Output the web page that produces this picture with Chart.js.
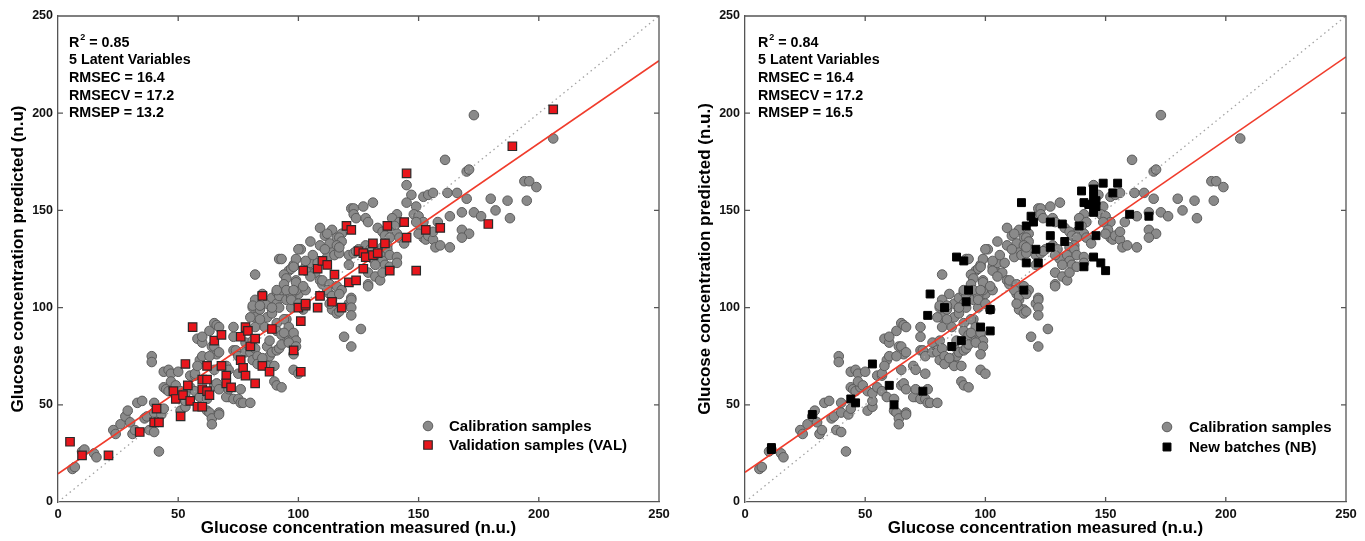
<!DOCTYPE html>
<html><head><meta charset="utf-8">
<script src="https://cdn.jsdelivr.net/npm/chart.js@4.4.1/dist/chart.umd.min.js"></script>
<style>
html,body{margin:0;padding:0;background:#fff;}
#wrap{position:relative;width:1365px;height:541px;overflow:hidden;}
canvas{position:absolute;top:0;}
#c1{left:0;} #c2{left:683px;}
</style></head><body>
<div id="wrap"><canvas id="c1" width="683" height="541"></canvas><canvas id="c2" width="682" height="541"></canvas></div>
<script>
const tickValues = [0, 50, 100, 150, 200, 250];

const calibration = [
[6,17],[7,18],[10,26],[11,27],[15,25],[16,23],[23,37],[24,35],[26,40],[28,44],[29,47],[30,41],[31,35],[32,37],[33,51],[35,52],[36,43],[37,44],[38,37],[40,36],[40,51],[40,46],[39,75],[39,72],[42,26],[43,45],[44,48],[44,59],[45,58],[46,57],[44,67],[46,68],[47,66],[48,59],[47,62],[49,60],[50,67],[51,57],[51,47],[53,49],[53,52],[53,56],[55,59],[55,65],[57,65],[57,57],[57,66],[58,84],[60,82],[59,73],[60,75],[58,70],[59,54],[62,53],[62,47],[63,46],[64,43],[64,40],[63,88],[65,92],[66,91],[67,90],[60,85],[64,80],[65,80],[66,76],[67,77],[63,75],[65,68],[65,60],[66,61],[67,58],[67,46],[67,45],[70,70],[71,68],[71,54],[70,54],[71,58],[73,53],[73,85],[73,90],[73,78],[74,78],[75,75],[75,66],[75,53],[76,58],[76,51],[77,51],[78,82],[78,77],[80,78],[80,77],[81,83],[82,79],[80,51],[81,73],[83,75],[83,71],[82,95],[80,95],[82,90],[84,100],[81,100],[82,104],[84,99],[85,107],[86,90],[87,80],[88,83],[87,73],[87,70],[88,75],[85,74],[89,77],[89,99],[87,95],[84,94],[87,102],[89,105],[91,102],[91,108],[92,106],[93,109],[92,100],[95,104],[89,97],[91,92],[91,88],[93,86],[91,78],[92,79],[93,81],[90,70],[90,62],[91,60],[93,59],[95,94],[94,94],[96,90],[94,87],[96,83],[98,85],[98,87],[99,83],[96,82],[99,80],[98,76],[98,68],[100,66],[82,117],[98,106],[100,107],[103,109],[99,114],[100,111],[103,121],[105,118],[107,118],[109,114],[110,112],[113,107],[114,104],[114,100],[116,99],[102,99],
[92,125],[93,125],[101,130],[109,141],[111,137],[114,140],[116,136],[118,138],[122,151],[96,119],[98,122],[103,119],[105,123],[108,123],[112,126],[114,130],[115,127],[117,128],[94,117],[95,115],[94,112],[91,109],[97,106],[99,109],[95,109],[81,101],[84,101],[89,100],[97,100],[97,120],
[145,163],[147,158],[152,157],[154,158],[156,159],[145,154],[149,152],[148,148],[150,147],[152,144],[149,144],[151,140],[152,136],[153,135],[154,137],[156,135],[157,131],[156,139],[131,154],[127,152],[123,151],[123,148],[124,146],[128,146],[129,144],[141,148],[139,146],[142,144],[140,142],[138,139],[141,138],[142,136],[144,133],[133,141],[135,139],[136,137],[138,136],[137,132],[135,131],[137,130],[112,138],[117,136],[118,134],[113,133],[109,132],[111,130],[116,132],[100,130],[105,134],[106,127],[103,124],[99,125],[98,121],[121,127],[123,128],[125,130],[128,132],[130,130],[131,125],[134,127],[135,124],[138,127],[141,126],[136,122],[132,122],[129,118],[132,116],[134,114],[129,112],[129,111],[99,113],[102,111],[98,109],[105,116],[110,114],[113,112],[116,111],[118,109],[112,109],[114,106],[117,107],[122,105],[121,102],[97,104],[100,102],
[173,199],[206,187],[161,176],[170,170],[171,171],[194,165],[196,165],[199,162],[162,159],[166,159],[170,156],[180,156],[187,155],[195,155],[163,147],[168,149],[173,149],[176,147],[182,150],[188,146],[158,144],[168,140],[171,138],[168,136],[159,132],[163,131],[150,138],[129,127],[117,131],[124,129],[121,122],
[122,104],[122,100],[122,96],[119,85],[122,80],[126,89],[114,99],[116,97],[117,98],[113,102],[135,118],[138,121],[141,123]
];

const validation = [
[5,31],[10,24],[21,24],[34,36],[40,41],[42,41],[41,48],[51,44],[48,57],[49,53],[52,55],[55,52],[58,49],[60,49],[54,60],[60,63],[60,58],[62,70],[62,63],[62,57],[63,55],[56,90],[53,71],[65,83],[68,86],[68,70],[70,65],[70,61],[72,59],[76,73],[77,69],[78,65],[76,85],[78,90],[79,88],[80,80],[82,84],[82,61],[85,70],[88,67],[89,89],[85,106],[98,78],[101,67],[101,93],[100,100],[103,101],[103,102],[108,100],[109,106],[114,103],[118,100],[102,119],[108,120],[110,124],[112,122],[115,117],[121,113],[124,114],[120,142],[122,140],[137,142],[144,144],[145,136],[153,140],[159,141],[131,133],[136,133],[125,129],[127,128],[128,126],[131,127],[133,128],[127,120],[138,119],[149,119],[145,169],[179,143],[189,183],[206,202]
];

const newBatches = [
[11,27],[11,28],[28,45],[44,53],[46,51],[53,71],[60,60],[62,50],[74,57],[77,107],[76,96],[83,100],[86,80],[90,83],[93,109],[92,103],[98,90],[102,99],[102,88],[91,124],[88,126],[116,109],[115,154],[117,142],[119,147],[120,144],[121,130],[122,123],[117,123],[127,144],[127,137],[127,131],[132,143],[133,134],[139,142],[140,160],[141,154],[143,153],[145,161],[145,157],[146,152],[146,155],[145,149],[146,137],[149,164],[153,159],[155,164],[160,148],[168,147],[141,121],[145,126],[148,123],[150,119]
];

const identityLine = [[0,0],[250,250]];
const fitVAL = [[0,14.5],[250,227]];
const fitNB = [[0,15.3],[250,229]];

const statsVAL = ['0.85', '5 Latent Variables', 'RMSEC = 16.4', 'RMSECV = 17.2', 'RMSEP = 13.2'];
const statsNB  = ['0.84', '5 Latent Variables', 'RMSEC = 16.4', 'RMSECV = 17.2', 'RMSEP = 16.5'];
const legendVAL = ['Calibration samples', 'Validation samples (VAL)'];
const legendNB  = ['Calibration samples', 'New batches (NB)'];

const FONT = "'Liberation Sans', Arial, Helvetica, sans-serif";
Chart.defaults.font.family = FONT;

const toPts = arr => arr.map(([x, y]) => ({x, y}));

const framePlugin = {
  id: 'frame',
  afterDatasetsDraw(chart) {
    const {ctx, chartArea: a, scales: {x, y}} = chart;
    ctx.save();
    ctx.strokeStyle = '#555';
    ctx.lineWidth = 1.3;
    ctx.beginPath();
    ctx.moveTo(a.left, a.top); ctx.lineTo(a.right, a.top); ctx.lineTo(a.right, a.bottom);
    tickValues.forEach(v => {
      if (v === 0 || v === 250) return;
      const px = x.getPixelForValue(v);
      ctx.moveTo(px, a.bottom); ctx.lineTo(px, a.bottom - 5);
      ctx.moveTo(px, a.top); ctx.lineTo(px, a.top + 5);
      const py = y.getPixelForValue(v);
      ctx.moveTo(a.left, py); ctx.lineTo(a.left + 5, py);
      ctx.moveTo(a.right, py); ctx.lineTo(a.right - 5, py);
    });
    ctx.stroke();
    ctx.restore();
  }
};

function annotPlugin(cfg) {
  return {
    id: 'annot',
    afterDraw(chart) {
      const ctx = chart.ctx, a = chart.chartArea;
      ctx.save();
      ctx.fillStyle = '#000';
      ctx.textBaseline = 'alphabetic';
      ctx.textAlign = 'left';
      const x0 = a.left + cfg.textDX;
      const y0 = 46.5, dy = 17.7;
      ctx.font = 'bold 14.3px ' + FONT;
      ctx.fillText('R', x0, y0);
      const wR = ctx.measureText('R').width;
      ctx.font = 'bold 9px ' + FONT;
      ctx.fillText('2', x0 + wR + 1, y0 - 7);
      const w2 = ctx.measureText('2').width;
      ctx.font = 'bold 14.3px ' + FONT;
      ctx.fillText(' = ' + cfg.stats[0], x0 + wR + 1 + w2, y0);
      for (let i = 1; i < cfg.stats.length; i++) ctx.fillText(cfg.stats[i], x0, y0 + i * dy);

      // legend
      ctx.font = 'bold 15px ' + FONT;
      ctx.textBaseline = 'middle';
      const lx = cfg.legX, ty = cfg.legY;
      ctx.fillStyle = '#8a8a8a'; ctx.strokeStyle = '#5c5c5c'; ctx.lineWidth = 1;
      Chart.helpers.drawPoint(ctx, {pointStyle: 'circle', radius: 4.8, rotation: 0, borderWidth: 1}, lx, ty[0]);
      ctx.fillStyle = cfg.sqFill; ctx.strokeStyle = cfg.sqEdge; ctx.lineWidth = cfg.sqBW;
      Chart.helpers.drawPoint(ctx, {pointStyle: 'rect', radius: cfg.sqR, rotation: 0, borderWidth: cfg.sqBW}, lx, ty[1]);
      ctx.fillStyle = '#000';
      ctx.fillText(cfg.legend[0], cfg.legTX, ty[0] + 1);
      ctx.fillText(cfg.legend[1], cfg.legTX, ty[1] + 1);
      ctx.restore();
    }
  };
}

function build(id, cfg) {
  return new Chart(document.getElementById(id), {
    type: 'scatter',
    data: {datasets: [
      {label: cfg.legend[0], data: toPts(calibration), pointStyle: 'circle', pointRadius: 4.8,
       backgroundColor: '#8a8a8a', borderColor: '#5c5c5c', borderWidth: 1, order: 4},
      {type: 'line', label: 'y = x', data: toPts(identityLine), borderColor: '#a3a3a3', borderWidth: 1.3,
       borderDash: [1.5, 3.5], pointRadius: 0, fill: false, order: 3},
      {type: 'line', label: 'fit', data: toPts(cfg.fit), borderColor: '#f03c2c', borderWidth: 1.6,
       pointRadius: 0, fill: false, order: 2},
      {label: cfg.legend[1], data: toPts(cfg.pts), pointStyle: 'rect', pointRadius: cfg.sqR,
       backgroundColor: cfg.sqFill, borderColor: cfg.sqEdge, borderWidth: cfg.sqBW, order: 1}
    ]},
    options: {
      responsive: false, animation: false, devicePixelRatio: 1, events: [],
      layout: {padding: {left: 0, right: cfg.padR, top: 16, bottom: 0}},
      plugins: {legend: {display: false}, tooltip: {enabled: false}},
      scales: {
        x: {
          type: 'linear', min: 0, max: 250,
          afterBuildTicks: s => { s.ticks = tickValues.map(v => ({value: v})); },
          ticks: {font: {size: 13, weight: 'bold'}, color: '#111', padding: 5},
          grid: {display: false, drawTicks: false},
          border: {display: true, color: '#555', width: 1.3},
          title: {display: true, text: 'Glucose concentration measured (n.u.)',
                  font: {size: 17, weight: 'bold'}, color: '#000', padding: {top: 0, bottom: 2}},
          afterFit: s => { s.height = 39; }
        },
        y: {
          type: 'linear', min: 0, max: 250,
          afterBuildTicks: s => { s.ticks = tickValues.map(v => ({value: v})); },
          ticks: {font: {size: 12.5, weight: 'bold'}, color: '#111', padding: 5},
          grid: {display: false, drawTicks: false},
          border: {display: true, color: '#555', width: 1.3},
          title: {display: true, text: cfg.yTitle,
                  font: {size: 17, weight: 'bold'}, color: '#000', padding: {top: cfg.yTitlePad, bottom: 0}},
          afterFit: s => { s.width = cfg.yW; }
        }
      }
    },
    plugins: [framePlugin, annotPlugin(cfg)]
  });
}

build('c1', {
  pts: validation, fit: fitVAL, stats: statsVAL, legend: legendVAL,
  sqFill: '#e8161c', sqEdge: '#2a2a2a', sqBW: 1.2, sqR: 6,
  yTitle: 'Glucose concentration predicted (n.u)', yTitlePad: 8, yW: 58, padR: 24,
  textDX: 11, legX: 428, legY: [426, 445], legTX: 449
});
build('c2', {
  pts: newBatches, fit: fitNB, stats: statsNB, legend: legendNB,
  sqFill: '#000', sqEdge: '#000', sqBW: 1, sqR: 5.6,
  yTitle: 'Glucose concentration predicted (n.u.)', yTitlePad: 12, yW: 62, padR: 19,
  textDX: 13, legX: 484, legY: [427, 447], legTX: 506
});
</script>
</body></html>
